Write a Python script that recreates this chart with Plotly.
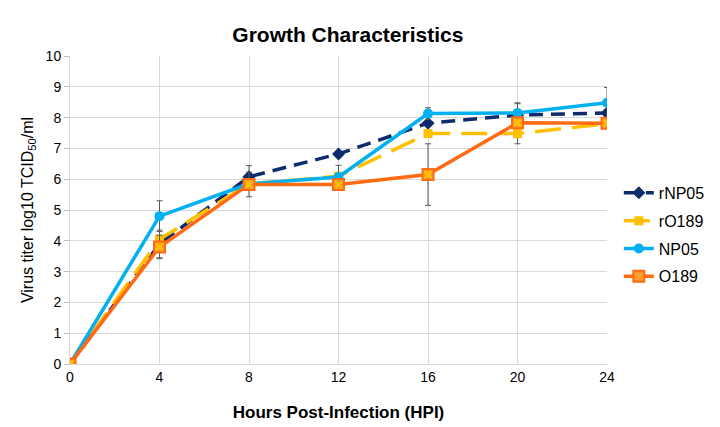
import plotly.graph_objects as go

hours = [0, 4, 8, 12, 16, 20, 24]
rNP05 = [0, 3.9, 6.08, 6.82, 7.82, 8.08, 8.15]
rO189 = [0, 4.05, 5.85, 6.1, 7.48, 7.48, 7.8]
NP05 = [0, 4.8, 5.85, 6.07, 8.13, 8.15, 8.48]
O189 = [0, 3.8, 5.83, 5.83, 6.15, 7.83, 7.82]

err_rNP05 = [0, 0.45, 0.36, 0, 0, 0.4, 0]
err_rO189 = [0, 0, 0, 0, 0, 0.33, 0]
err_NP05 = [0, 0.5, 0, 0.38, 0.19, 0.3, 0.5]
err_O189 = [0, 0.38, 0.4, 0, 1.0, 0, 0]

x_ticks = [0, 4, 8, 12, 16, 20, 24]
y_ticks = list(range(0, 11))

ERR = dict(type="data", visible=True, color="#595959", thickness=1, width=3)

fig = go.Figure()
fig.add_trace(go.Scatter(
    x=hours, y=rNP05, name="rNP05", mode="lines+markers", legendgroup="a",
    line=dict(color="#0E2C6B", width=3.5, dash="14px,8px"),
    marker=dict(symbol="diamond", size=10, color="#0E2C6B"),
    error_y=dict(array=err_rNP05, **ERR)))
fig.add_trace(go.Scatter(
    x=hours, y=rO189, name="rO189", mode="lines+markers", legendgroup="b",
    line=dict(color="#FFC000", width=3.5, dash="26px,11px"),
    marker=dict(symbol="square", size=9, color="#FFC000"),
    error_y=dict(array=err_rO189, **ERR)))
fig.add_trace(go.Scatter(
    x=hours, y=NP05, name="NP05", mode="lines+markers", legendgroup="c",
    line=dict(color="#00B0F0", width=3.5),
    marker=dict(symbol="circle", size=10, color="#00B0F0"),
    error_y=dict(array=err_NP05, **ERR)))
fig.add_trace(go.Scatter(
    x=hours, y=O189, name="O189", mode="lines+markers", legendgroup="d",
    line=dict(color="#FF6A13", width=3.5),
    marker=dict(symbol="square", size=11, color="#FF9A2E",
                line=dict(color="#FF6A13", width=2)),
    error_y=dict(array=err_O189, **ERR)))
fig.add_trace(go.Scatter(
    x=hours, y=O189, name="O189", mode="markers", legendgroup="d", showlegend=False,
    marker=dict(symbol="x-thin", size=7, color="#FFC000",
                line=dict(color="#FFC000", width=2.5)),
    hoverinfo="skip"))

fig.update_layout(
    width=720, height=427,
    paper_bgcolor="white", plot_bgcolor="white",
    margin=dict(l=62, r=121, t=48, b=71, autoexpand=False),
    font=dict(family="Liberation Sans, Arial, sans-serif", color="#000000", size=14),
    title=dict(text="<b>Growth Characteristics</b>", xref="container", x=0.472,
               xanchor="center", yref="container", y=1 - 27 / 427, yanchor="middle",
               font=dict(size=21)),
    showlegend=True,
    legend=dict(x=1.022, xanchor="left", y=0.419, yanchor="middle",
                font=dict(size=16), itemwidth=30, traceorder="grouped",
                tracegroupgap=4, bgcolor="rgba(0,0,0,0)"),
)
fig.update_xaxes(
    range=[0, 24], tickvals=x_ticks, ticktext=[str(v) for v in x_ticks],
    showgrid=True, gridcolor="#D9D9D9", gridwidth=1, automargin=False,
    showline=True, linecolor="#D9D9D9", zeroline=False,
    ticks="", tickfont=dict(size=14),
    title=dict(text="<b>Hours Post-Infection (HPI)</b>", font=dict(size=17), standoff=22),
)
fig.update_yaxes(
    range=[0, 10], tickvals=y_ticks, ticktext=[str(v) for v in y_ticks],
    showgrid=True, gridcolor="#D9D9D9", gridwidth=1, automargin=False,
    showline=True, linecolor="#D9D9D9", zeroline=False,
    ticks="outside", ticklen=5, tickcolor="#BFBFBF", tickfont=dict(size=14),
    title=dict(text="Virus titer log10 TCID<sub>50</sub>/ml", font=dict(size=16), standoff=8),
)

fig.write_html("out.html")
